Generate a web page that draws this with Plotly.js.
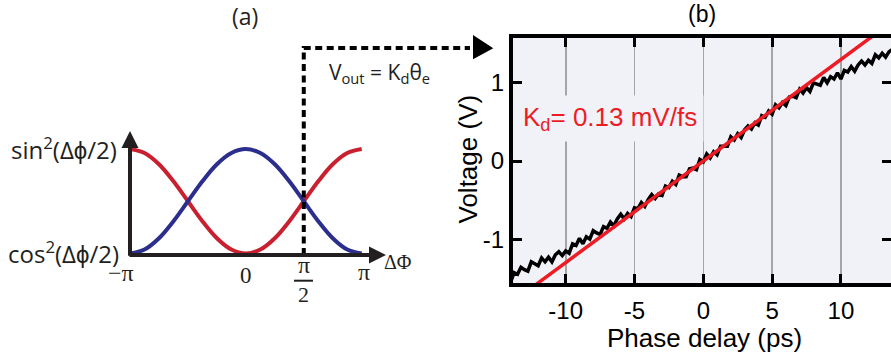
<!DOCTYPE html>
<html>
<head>
<meta charset="utf-8">
<script src="https://cdn.plot.ly/plotly-3.0.1.min.js"></script>
<style>html,body{margin:0;padding:0;background:#fff}#plot{width:891px;height:362px}</style>
</head>
<body>
<div id="plot"></div>
<script>
// ---------- Panel (a): schematic curves (phase in units of pi) ----------
const phase = [-1,-0.875,-0.75,-0.625,-0.5,-0.375,-0.25,-0.125,0,0.125,0.25,0.375,0.5,0.625,0.75,0.875,1];
const cosSq = [0,0.038,0.146,0.309,0.5,0.691,0.854,0.962,1,0.962,0.854,0.691,0.5,0.309,0.146,0.038,0];
const sinSq = [1,0.962,0.854,0.691,0.5,0.309,0.146,0.038,0,0.038,0.146,0.309,0.5,0.691,0.854,0.962,1];
const phaseTickText = ['\u2212\u03c0', '0', '\u03c0'];
const markPhase = 0.5;

// ---------- Panel (b): measured voltage vs phase delay ----------
const delayPs = [-14,-13.75,-13.5,-13.25,-13,-12.75,-12.5,-12.25,-12,-11.75,-11.5,-11.25,-11,-10.75,-10.5,-10.25,
  -10,-9.75,-9.5,-9.25,-9,-8.75,-8.5,-8.25,-8,-7.75,-7.5,-7.25,-7,-6.75,-6.5,-6.25,
  -6,-5.75,-5.5,-5.25,-5,-4.75,-4.5,-4.25,-4,-3.75,-3.5,-3.25,-3,-2.75,-2.5,-2.25,
  -2,-1.75,-1.5,-1.25,-1,-0.75,-0.5,-0.25,0,0.25,0.5,0.75,1,1.25,1.5,1.75,
  2,2.25,2.5,2.75,3,3.25,3.5,3.75,4,4.25,4.5,4.75,5,5.25,5.5,5.75,
  6,6.25,6.5,6.75,7,7.25,7.5,7.75,8,8.25,8.5,8.75,9,9.25,9.5,9.75,
  10,10.25,10.5,10.75,11,11.25,11.5,11.75,12,12.25,12.5,12.75,13,13.25,13.5,13.75];
const voltage = [-1.55,-1.43,-1.45,-1.36,-1.39,-1.41,-1.29,-1.31,-1.34,-1.24,-1.29,-1.23,-1.29,-1.20,-1.16,-1.21,
  -1.15,-1.18,-1.06,-1.08,-0.99,-1.06,-0.97,-1.00,-0.89,-0.92,-0.94,-0.84,-0.86,-0.78,-0.83,-0.74,
  -0.68,-0.74,-0.67,-0.71,-0.60,-0.61,-0.53,-0.58,-0.49,-0.43,-0.48,-0.42,-0.44,-0.32,-0.34,-0.26,
  -0.30,-0.18,-0.20,-0.20,-0.10,-0.09,-0.11,0.02,-0.01,0.09,0.04,0.12,0.08,0.19,0.19,0.19,
  0.31,0.27,0.35,0.30,0.40,0.45,0.41,0.49,0.46,0.58,0.56,0.64,0.60,0.72,0.68,0.75,
  0.71,0.82,0.83,0.81,0.92,0.87,0.94,0.89,1.00,0.98,0.97,1.07,1.00,1.08,1.05,1.13,
  1.05,1.16,1.14,1.21,1.15,1.23,1.28,1.23,1.29,1.25,1.36,1.32,1.38,1.33,1.40,1.43];
const fitDelay = [-15, 15];
const fitVoltage = [-1.95, 1.95];
const xTickVals = [-10, -5, 0, 5, 10];
const xTickText = ['-10', '-5', '0', '5', '10'];
const yTickVals = [-1, 0, 1];
const yTickText = ['-1', '0', '1'];

// ---------- helpers (pixel -> paper) ----------
const W = 891, H = 362;
const PX = p => p / W;
const PY = p => 1 - p / H;
const INK = '#231f20';
const RED_A = '#c8202f', BLUE_A = '#2b2e8c', RED_B = '#ed1c24', LAV = '#f1f1f8';
const fontA = 'Open Sans, sans-serif';
const fontSerif = 'Liberation Serif, serif';
const fontB = 'Liberation Sans, Arial, sans-serif';

const traces = [
  {x: phase, y: sinSq, xaxis: 'x', yaxis: 'y', mode: 'lines', line: {color: RED_A, width: 4, shape: 'spline'}, hoverinfo: 'skip'},
  {x: phase, y: cosSq, xaxis: 'x', yaxis: 'y', mode: 'lines', line: {color: BLUE_A, width: 4, shape: 'spline'}, hoverinfo: 'skip'},
  {x: delayPs, y: voltage, xaxis: 'x2', yaxis: 'y2', mode: 'lines', line: {color: '#000', width: 3.5}, hoverinfo: 'skip'},
  {x: fitDelay, y: fitVoltage, xaxis: 'x2', yaxis: 'y2', mode: 'lines', line: {color: RED_B, width: 3.5}, hoverinfo: 'skip'}
];

const ann = [];
function txt(t, x, y, size, family, opts) {
  ann.push(Object.assign({text: t, x: PX(x), y: PY(y), xref: 'paper', yref: 'paper', showarrow: false,
    xanchor: 'center', yanchor: 'middle', font: {size: size, family: family, color: INK}}, opts || {}));
}
txt('(a)', 245, 16, 23, fontA);
txt('(b)', 702, 14, 23, fontB, {font: {size: 23, family: fontB, color: '#000'}});
txt('sin<sup>2</sup>(\u0394\u03d5/2)', 119, 148, 24, fontA, {xanchor: 'right'});
txt('cos<sup>2</sup>(\u0394\u03d5/2)', 121, 252, 24, fontA, {xanchor: 'right'});
txt(phaseTickText[0], 121, 273, 24, fontSerif);
txt(phaseTickText[1], 245.5, 275, 23, fontSerif);
txt(phaseTickText[2], 363.5, 272, 24, fontSerif);
txt('\u03c0', 303.5, 265, 24, fontSerif);
txt('2', 303.5, 294, 22, fontSerif);
txt('\u0394\u03a6', 398, 262, 20, fontSerif);
txt('V<sub>out</sub> = K<sub>d</sub>\u03b8<sub>e</sub>', 327, 73, 21, fontA, {xanchor: 'left'});
txt('Phase delay (ps)', 704, 338, 26, fontB, {font: {size: 26, family: fontB, color: '#000'}});
txt('Voltage (V)', 467.5, 159, 26, fontB, {textangle: -90, font: {size: 26, family: fontB, color: '#000'}});
txt('K<sub>d</sub>= 0.13 mV/fs', 609.5, 118.5, 26, fontB, {font: {size: 26, family: fontB, color: RED_B}, bgcolor: LAV, borderpad: 6});

// axis arrows of panel (a)
ann.push({text: '', xref: 'x', yref: 'y', axref: 'x', ayref: 'y', x: -1, y: 1.172, ax: -1, ay: -0.035,
  showarrow: true, arrowhead: 2, arrowwidth: 4, arrowsize: 0.85, arrowcolor: INK, standoff: 0});
ann.push({text: '', xref: 'x', yref: 'y', axref: 'x', ayref: 'y', x: 1.2098, y: -0.015, ax: -1.0177, ay: -0.015,
  showarrow: true, arrowhead: 2, arrowwidth: 4, arrowsize: 0.85, arrowcolor: INK, standoff: 0});

const shapes = [
  {type: 'rect', xref: 'x2 domain', yref: 'y2 domain', x0: 0, x1: 1, y0: 0, y1: 1, fillcolor: LAV, line: {width: 0}, layer: 'below'},
  {type: 'path', xref: 'x', yref: 'y', path: `M ${markPhase},-0.015 L ${markPhase},1.9665 L 1.9348,1.9665`,
    line: {color: '#000', width: 4, dash: '7px,4.5px'}},
  {type: 'path', xref: 'x', yref: 'y', path: 'M 1.9607,2.0909 L 2.1359,1.9636 L 1.9607,1.8584 Z',
    fillcolor: '#000', line: {color: '#000', width: 0}},
  {type: 'line', xref: 'paper', yref: 'paper', x0: PX(294), x1: PX(313), y0: PY(280.7), y1: PY(280.7), line: {color: INK, width: 2}}
];

const axB = {
  ticks: 'inside', ticklen: 9, tickwidth: 3, tickcolor: '#000',
  showline: true, linewidth: 4, linecolor: '#000', mirror: 'ticks',
  zeroline: false, tickmode: 'array', fixedrange: true,
  tickfont: {family: fontB, size: 24, color: '#000'}
};

const layout = {
  width: W, height: H, margin: {l: 0, r: 0, t: 0, b: 0, pad: 0},
  paper_bgcolor: '#fff', plot_bgcolor: 'rgba(0,0,0,0)', showlegend: false,
  xaxis: {domain: [0, 1], range: [-2.1221, 5.5688], visible: false, fixedrange: true},
  yaxis: {domain: [0, 1], range: [-1.0383, 2.4258], visible: false, fixedrange: true},
  xaxis2: Object.assign({}, axB, {domain: [513 / W, 1], range: [-13.83, 13.64], anchor: 'y2',
    tickvals: xTickVals, ticktext: xTickText, showgrid: true, gridcolor: '#a5a5a5', gridwidth: 1.6,
    ticklabelstandoff: 3}),
  yaxis2: Object.assign({}, axB, {domain: [1 - 283.3 / H, 1 - 38 / H], range: [-1.565, 1.575], anchor: 'x2',
    tickvals: yTickVals, ticktext: yTickText, showgrid: false}),
  annotations: ann,
  shapes: shapes
};

Plotly.newPlot('plot', traces, layout, {displayModeBar: false, staticPlot: true});
</script>
</body>
</html>
